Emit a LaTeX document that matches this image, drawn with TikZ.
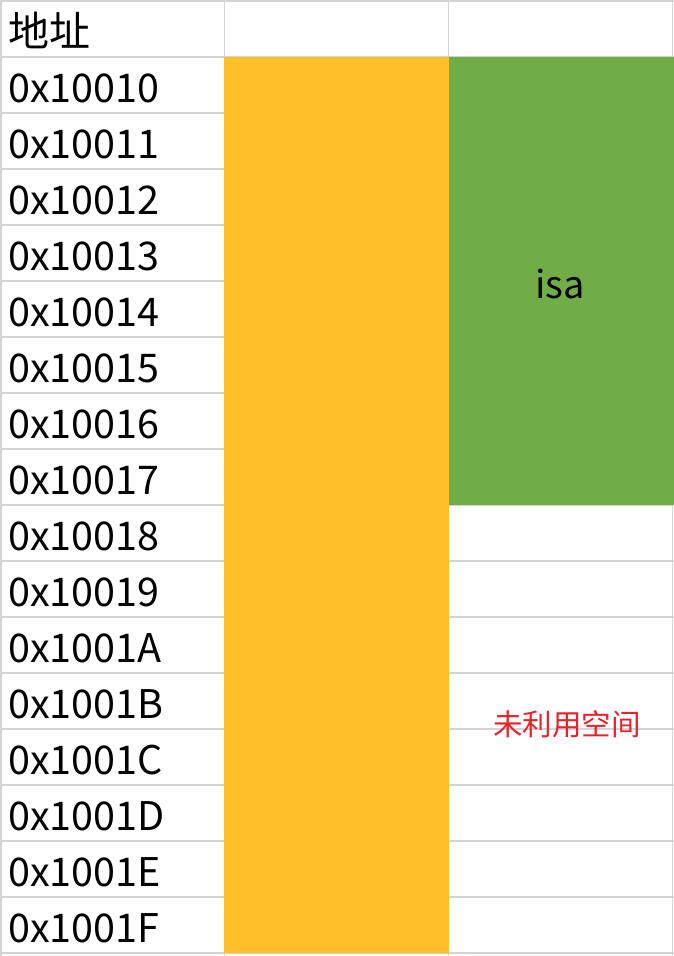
\documentclass[tikz,border=0pt]{standalone}
\usepackage{fontspec}
\setmainfont{Noto Sans CJK SC}
\definecolor{gridgray}{HTML}{D4D4D4}
\definecolor{cellorange}{HTML}{FEBF2B}
\definecolor{cellgreen}{HTML}{70AD47}
\definecolor{notered}{HTML}{E8222A}
\begin{document}
\begin{tikzpicture}[x=1pt,y=-1pt,
  gridline/.style={draw=gridgray,line width=1.3pt},
  addr/.style={anchor=base west,inner sep=0pt,font=\fontsize{39.5}{42}\selectfont},
  hdr/.style={anchor=base west,inner sep=0pt,font=\fontsize{41}{43}\selectfont},
  isatext/.style={inner sep=0pt,font=\fontsize{38}{40}\selectfont},
  freetext/.style={inner sep=0pt,text=notered,font=\fontsize{29.5}{31}\selectfont}]
\useasboundingbox (0,0) rectangle (674,956);
\fill[white] (0,0) rectangle (674,956);
% grid lines
\foreach \i in {0,...,16} {
  \draw[gridline] (0,{57+56*\i}) -- (674,{57+56*\i});
}
\draw[gridline] (0,1) -- (674,1);
\foreach \xx in {1,224.5,448.5,672.5} {
  \draw[gridline] (\xx,0) -- (\xx,956);
}
% filled cells
\fill[cellorange] (224,57) rectangle (449,953);
\fill[cellgreen] (449,57) rectangle (674,505);
% texts
\node[hdr] (h) at (8,46) {地址};
\foreach \lab [count=\k from 0] in {10010,10011,10012,10013,10014,10015,10016,10017,10018,10019,1001A,1001B,1001C,1001D,1001E,1001F} {
  \node[addr] (a\k) at (8,{102+56*\k}) {0x\lab};
}
\node[isatext] (isa) at (560,284) {isa};
\node[freetext] (free) at (567,724) {未利用空间};
\end{tikzpicture}
\end{document}
